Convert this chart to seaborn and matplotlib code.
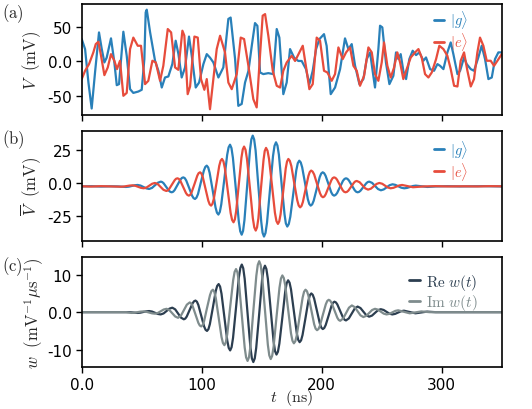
import matplotlib
matplotlib.use("Agg")
import matplotlib.pyplot as plt
import seaborn as sns
import pandas as pd

# ---- data ----
# (a) single-shot traces, t in ns, V in mV
t_raw_g = [0, 2.8, 5.6, 8.3, 11.1, 14.4, 16.7, 18.9, 20.8, 24.4, 27.2, 29.2, 31.1, 34.7, 37.5,
           40.3, 43.0, 47.2, 50.0, 52.2, 53.3, 54.2, 57.0, 61.1, 63.9, 66.7, 69.4, 72.2, 75.5, 78.3,
           80.6, 83.3, 86.1, 89.4, 91.7, 95.0, 97.8, 101.4, 104.2, 106.9, 109.7, 113.9, 118.0,
           122.2, 124.1, 127.8, 130.5, 133.3, 136.1, 138.9, 141.7, 144.4, 146.4, 148.6, 151.3, 155.5,
           159.7, 162.5, 164.7, 168.0, 170.8, 173.6, 177.0, 180.5, 183.3, 186.9, 189.7, 192.5, 195.3,
           198.1, 201.9, 204.1, 207.5, 211.1, 215.3, 219.4, 222.2, 225.0, 227.8, 231.4,
           234.7, 237.5, 240.3, 243.0, 244.4, 247.2, 248.6, 250.5, 253.5, 256.4, 259.7, 261.9, 263.9,
           265.8, 268.0, 270.3, 273.0, 275.8, 278.6, 281.4, 284.7, 286.9, 290.3, 293.6, 296.4, 298.6,
           301.4, 304.7, 307.5, 309.7, 313.1, 315.3, 318.6, 320.8, 324.2, 326.9, 330.5, 333.3, 336.1,
           338.9, 341.7, 344.4, 347.2, 350.0]
v_raw_g = [31.9, 17.4, -31, -68.6, -16.4, 41.5, 17.4, -1.9, 5, 32.9, -1.9, -34.8, -33.3, 42.5, 7.7,
           -40.6, -46, -44, -41.5, 2.9, 70.5, 74.4, 41.5, 0.5, -14, -38.2, -23.7, -22.2, -4.3, 29.5,
           10.1, -23.7, -9.2, 35.5, 7.7, -38.2, -31, -4.3, 10.1, 5, -1.9, -23.7, -9.2,
           61, 63, 3, -64.7, -62, -31, -14.5, 22, 55, 51, -16.4, -18.8, -17.4,
           -18.8, 46.4, 34, -47.8, -31, 17.4, 5, 0.2, 0.2, -11.6, -33.3, -14, 17.4,
           31.9, 39, 22, -47.8, -38.2, -11.6, 32.9, 17.4, 24.6, -6.8, -33.3,
           -26, 2.9, 12.6, -21.3, -38.2, 17.4, 51.2, 48.8, -1.9, -33.3, -21.3, 12.6, 2.9,
           10.1, -14, -26, 2.9, 15, 8.7, 12.6, 0.5, 5.3, -11.6, -14, -4.3, -6.8,
           -11.6, 12.6, 27, 10.1, -18.8, -14, 5.3, -4.3, -11.6, -14, 5.3, 22.2, 2.9,
           -26, -23.7, 2.9, 12.6, 12.6]

t_raw_e = [0, 2.8, 6.1, 9.7, 11.7, 13.9, 16.1, 18.9, 21.7, 24.4, 27.2, 29.4, 31.9, 34.7, 37.5,
           40.3, 43.0, 46.7, 49.4, 52.8, 55.5, 58.9, 61.7, 65.3, 68.0, 71.7, 74.5, 77.8, 80.5, 83.9,
           85.5, 88.3, 90.3, 93.9, 96.7, 99.4, 102.2, 104.2, 106.9, 109.7, 112.5,
           115.3, 119.4, 122.2, 125.0, 129.2, 132.5, 135.3, 138.9, 143.0, 145.8, 148.0, 150.8, 152.8,
           155.5, 159.2, 162.5, 165.3, 168.0, 170.8, 175.0, 177.8, 181.4, 184.2, 187.0, 189.7, 192.5,
           195.8, 198.6, 201.9, 204.7, 208.3, 211.1, 213.9, 217.5, 220.3, 223.6, 226.4, 229.2,
           231.9, 235.3, 238.9, 241.7, 244.4, 247.2, 250.0, 251.9, 254.7, 257.5, 260.3, 263.0, 265.3,
           268.0, 270.8, 274.2, 277.8, 280.6, 283.3, 286.1, 288.9, 291.7, 295.3, 298.0, 301.4, 304.7,
           307.5, 310.3, 313.1, 315.8, 318.6, 321.4, 324.2, 326.9, 329.7, 331.9, 334.7, 337.5, 340.8,
           343.6, 346.4, 350.0]
v_raw_e = [-26, -14, -4.3, 12.6, 24.6, 28, 7.7, -20.3, -9.2, 10.1, 0.5, -11.6, 0.5, -50.2, -46,
           17.4, 34, 22.2, 22.2, -33.3, -28.5, 0.5, -1.9, -28.5, -6.8, 46.4, 41.5, -9.2, -12.6, 44,
           37, -47.8, -36.7, 35.5, 34, -26, -41.5, -26, -69.6, -26, 17.4,
           36.7, 12.6, -31, -40.6, -18.8, 34, 31.9, -6.8, -55, -67, -6.8, 65.7, 68,
           36.7, -14, -35.7, -38.2, -14, -2, 7.7, 0.2, 12.6, 22.2, -9.2, -40.6, -33.3,
           34, 29.5, -14, -16.4, -28.5, -18.8, 19.8, 2.9, 12.6, 19.8, -6.8, -14,
           -35.7, -21.3, 19.8, 12.6, -18.8, -28.5, -1.9, 27, -6.8, -23.7, -9.2, 12.6, -1.9,
           -26, -11.6, 5.3, 12.6, 17.4, 5.3, -18.8, -23.7, -16.4, 2.9, 22.2, 17.4, 7.7,
           -11.6, -35.7, -36.7, 0.5, 12.6, -14, -36.7, -26, 12.6, 34, 22.2, 0.5, 0.5,
           -6.8, 0.5, 10.1]

# (b) averaged traces, (t ns, V mV)
avg_g = [(0, -2.6), (8, -2.4), (16, -2.7), (24, -2.5), (30, -2.6),
         (36.9, -3.0), (39.3, -2.78), (41.8, -2.25), (44.2, -1.72),
         (46.6, -1.5), (49.0, -1.94), (51.4, -3.0), (53.8, -4.06),
         (56.2, -4.5), (58.6, -3.69), (61.1, -1.75), (63.5, 0.19),
         (65.9, 1.0), (67.0, 0.7), (68.2, -0.17), (70.5, -3.0), (72.7, -5.83), (73.9, -6.7),
         (75.0, -7.0), (76.2, -6.57), (77.4, -5.36), (79.9, -1.4), (82.3, 2.56), (83.5, 3.77),
         (84.7, 4.2), (85.9, 3.58), (87.1, 1.83), (89.6, -3.9), (92.0, -9.63), (93.2, -11.38),
         (94.4, -12.0), (95.6, -11.05), (96.9, -8.34), (99.3, 0.5), (101.8, 9.34), (103.0, 12.05),
         (104.2, 13.0), (105.4, 11.61), (106.6, 7.62), (109.1, -5.35), (111.5, -18.32), (112.7, -22.31),
         (113.9, -23.7), (115.1, -21.71), (116.3, -16.02), (118.8, 2.5), (121.2, 21.02), (122.4, 26.71),
         (123.6, 28.7), (124.8, 26.13), (126.0, 18.81), (128.5, -5.05), (130.9, -28.91), (132.1, -36.23),
         (133.3, -38.8), (134.45, -35.98), (135.6, -27.92), (137.9, -1.65), (140.2, 24.62), (141.35, 32.68),
         (142.5, 35.5), (143.7, 32.62), (144.9, 24.41), (147.2, -2.35), (149.6, -29.11), (150.7, -37.32),
         (151.9, -40.2), (153.15, -37.51), (154.4, -29.84), (156.9, -4.85), (159.4, 20.14), (160.65, 27.81),
         (161.9, 30.5), (163.1, 28.1), (164.3, 21.24), (166.6, -1.1), (169.0, -23.44), (170.1, -30.3),
         (171.3, -32.7), (172.55, -30.82), (173.8, -25.46), (176.3, -8.0), (178.8, 9.46), (180.05, 14.82),
         (181.3, 16.7), (182.5, 15.42), (183.7, 11.76), (186.1, -0.15), (188.4, -12.06), (189.6, -15.72),
         (190.8, -17.0), (192.05, -16.05), (193.3, -13.34), (195.8, -4.5), (198.3, 4.34), (199.55, 7.05),
         (200.8, 8.0), (202.0, 7.33), (203.2, 5.44), (205.6, -0.75), (207.9, -6.94), (209.1, -8.83),
         (210.3, -9.5), (211.5, -9.01), (212.8, -7.6), (215.3, -3.0), (217.7, 1.6), (219.0, 3.01),
         (220.2, 3.5), (221.4, 3.1), (222.6, 1.96), (225.1, -1.75), (227.5, -5.46), (228.7, -6.6),
         (229.9, -7.0), (231.1, -6.7), (232.3, -5.83), (234.8, -3.0), (237.2, -0.17), (238.4, 0.7),
         (239.6, 1.0), (242.0, 0.05), (244.5, -2.25), (246.9, -4.55),
         (249.3, -5.5), (251.7, -4.84), (254.2, -3.25), (256.6, -1.66),
         (259.0, -1.0), (261.4, -1.44), (263.9, -2.5), (266.3, -3.56),
         (268.7, -4.0), (271.1, -3.71), (273.6, -3.0), (276.0, -2.29),
         (278.4, -2.0), (283.2, -2.5), (288.0, -3.0),
         (295, -2.6), (305, -2.4), (315, -2.6), (325, -2.5), (335, -2.4), (350, -2.6)]

avg_e = [(0, -2.5), (8, -2.7), (16, -2.4), (24, -2.6),
         (33.0, -2.8), (35.3, -2.65), (37.7, -2.3), (40.0, -1.95),
         (42.3, -1.8), (44.7, -2.12), (47.0, -2.9), (49.4, -3.68),
         (51.7, -4.0), (54.0, -3.41), (56.4, -2.0), (58.7, -0.59),
         (61.0, 0.0), (63.4, -0.88), (65.8, -3.0), (68.1, -5.12),
         (70.5, -6.0), (71.7, -5.64), (72.8, -4.61), (75.2, -1.25), (77.5, 2.11), (78.6, 3.14),
         (79.8, 3.5), (81.0, 3.01), (82.2, 1.6), (84.6, -3.0), (86.9, -7.6), (88.1, -9.01),
         (89.3, -9.5), (90.5, -8.83), (91.6, -6.94), (94.0, -0.75), (96.3, 5.44), (97.4, 7.33),
         (98.6, 8.0), (99.75, 7.05), (100.9, 4.34), (103.2, -4.5), (105.5, -13.34), (106.65, -16.05),
         (107.8, -17.0), (108.95, -15.67), (110.1, -11.87), (112.4, 0.5), (114.6, 12.87), (115.75, 16.67),
         (116.9, 18.0), (118.1, 16.2), (119.3, 11.04), (121.7, -5.75), (124.1, -22.54), (125.3, -27.7),
         (126.5, -29.5), (127.6, -27.34), (128.7, -21.18), (130.9, -1.1), (133.1, 18.98), (134.2, 25.14),
         (135.3, 27.3), (136.5, 24.91), (137.7, 18.07), (140.2, -4.2), (142.6, -26.47), (143.8, -33.31),
         (145.0, -35.7), (146.1, -33.34), (147.2, -26.62), (149.3, -4.7), (151.5, 17.22), (152.5, 23.94),
         (153.6, 26.3), (154.85, 24.13), (156.1, 17.95), (158.6, -2.2), (161.0, -22.35), (162.25, -28.53),
         (163.5, -30.7), (164.6, -28.85), (165.7, -23.57), (167.9, -6.35), (170.0, 10.87), (171.1, 16.15),
         (172.2, 18.0), (173.4, 16.62), (174.7, 12.68), (177.1, -0.15), (179.6, -12.98), (180.8, -16.92),
         (182.0, -18.3), (183.15, -17.25), (184.3, -14.26), (186.6, -4.5), (188.9, 5.26), (190.05, 8.25),
         (191.2, 9.3), (192.4, 8.54), (193.7, 6.37), (196.1, -0.7), (198.6, -7.77), (199.8, -9.94),
         (201.0, -10.7), (202.2, -10.13), (203.3, -8.52), (205.7, -3.25), (208.0, 2.02), (209.1, 3.63),
         (210.3, 4.2), (211.5, 3.77), (212.7, 2.56), (215.1, -1.4), (217.4, -5.36), (218.6, -6.57),
         (219.8, -7.0), (221.0, -6.68), (222.2, -5.75), (224.5, -2.75), (226.9, 0.25), (228.0, 1.18),
         (229.2, 1.5), (231.6, 0.55), (233.9, -1.75), (236.3, -4.05),
         (238.6, -5.0), (241.0, -4.27), (243.3, -2.5), (245.7, -0.73),
         (248.0, 0.0), (250.4, -0.59), (252.7, -2.0), (255.1, -3.41),
         (257.4, -4.0), (259.8, -3.63), (262.2, -2.75), (264.6, -1.87),
         (267.0, -1.5), (271.5, -2.35), (276.0, -3.2),
         (285, -2.6), (295, -2.4), (305, -2.6), (318, -2.5), (330, -2.6), (340, -2.4), (350, -2.5)]

# (c) weights, (t ns, w)
w_re = [(0, 0), (10, 0), (20, 0), (30, 0), (40, 0),
        (46.5, -0.2), (48.9, -0.13), (51.3, 0.05), (53.8, 0.23),
        (56.2, 0.3), (58.6, 0.17), (61.0, -0.15), (63.4, -0.47),
        (65.8, -0.6), (68.2, -0.34), (70.7, 0.3), (73.1, 0.94),
        (75.5, 1.2), (77.9, 0.75), (80.3, -0.35), (82.7, -1.45),
        (85.1, -1.9), (86.3, -1.71), (87.5, -1.17), (90.0, 0.6), (92.4, 2.37), (93.6, 2.91),
        (94.8, 3.1), (96.0, 2.79), (97.2, 1.91), (99.6, -0.95), (102.0, -3.81), (103.2, -4.69),
        (104.4, -5.0), (105.6, -4.52), (106.8, -3.17), (109.3, 1.25), (111.7, 5.67), (112.9, 7.02),
        (114.1, 7.5), (115.3, 6.83), (116.5, 4.91), (118.9, -1.35), (121.3, -7.61), (122.5, -9.53),
        (123.7, -10.2), (124.9, -9.33), (126.1, -6.85), (128.6, 1.25), (131.0, 9.35), (132.2, 11.83),
        (133.4, 12.7), (134.6, 11.71), (135.8, 8.89), (138.2, -0.3), (140.6, -9.49), (141.8, -12.31),
        (143.0, -13.3), (144.2, -12.32), (145.4, -9.53), (147.9, -0.45), (150.3, 8.63), (151.5, 11.42),
        (152.7, 12.4), (153.9, 11.5), (155.1, 8.93), (157.5, 0.55), (159.9, -7.83), (161.1, -10.4),
        (162.3, -11.3), (163.5, -10.55), (164.7, -8.4), (167.2, -1.4), (169.6, 5.6), (170.8, 7.75),
        (172.0, 8.5), (173.2, 7.87), (174.4, 6.08), (176.8, 0.25), (179.2, -5.58), (180.4, -7.37),
        (181.6, -8.0), (182.8, -7.51), (184.0, -6.1), (186.5, -1.5), (188.9, 3.1), (190.1, 4.51),
        (191.3, 5.0), (192.5, 4.64), (193.7, 3.61), (196.1, 0.25), (198.5, -3.11), (199.7, -4.14),
        (200.9, -4.5), (202.1, -4.22), (203.3, -3.43), (205.8, -0.85), (208.2, 1.73), (209.4, 2.52),
        (210.6, 2.8), (211.8, 2.61), (213.0, 2.07), (215.4, 0.3), (217.8, -1.47), (219.0, -2.01),
        (220.2, -2.2), (222.6, -1.66), (225.1, -0.35), (227.5, 0.96),
        (229.9, 1.5), (232.3, 1.1), (234.7, 0.15), (237.1, -0.8),
        (239.5, -1.2), (241.9, -0.91), (244.4, -0.2), (246.8, 0.51),
        (249.2, 0.8), (251.6, 0.59), (254.0, 0.1), (256.4, -0.39),
        (258.8, -0.6), (261.2, -0.45), (263.7, -0.1), (266.1, 0.25),
        (268.5, 0.4), (273.3, 0.05), (278.1, -0.3), (283.0, -0.07), (287.8, 0.15),
        (295, 0), (310, 0), (330, 0), (350, 0)]

w_im = [(0, 0), (10, 0), (20, 0), (30, 0), (37, 0),
        (41.7, -0.2), (44.1, -0.14), (46.5, 0), (48.9, 0.14),
        (51.4, 0.2), (53.8, 0.11), (56.2, -0.1), (58.6, -0.31),
        (61.0, -0.4), (63.4, -0.21), (65.8, 0.25), (68.3, 0.71),
        (70.7, 0.9), (73.1, 0.55), (75.5, -0.3), (77.9, -1.15),
        (80.3, -1.5), (82.7, -0.9), (85.1, 0.55), (87.6, 2.0),
        (90.0, 2.6), (91.2, 2.36), (92.4, 1.66), (94.8, -0.6), (97.2, -2.86), (98.4, -3.56),
        (99.6, -3.8), (100.8, -3.43), (102.0, -2.36), (104.4, 1.1), (106.9, 4.56), (108.1, 5.63),
        (109.3, 6.0), (110.5, 5.44), (111.7, 3.83), (114.1, -1.4), (116.5, -6.63), (117.7, -8.24),
        (118.9, -8.8), (120.1, -8.03), (121.3, -5.83), (123.7, 1.35), (126.2, 8.53), (127.4, 10.73),
        (128.6, 11.5), (129.8, 10.57), (131.0, 7.91), (133.4, -0.75), (135.8, -9.41), (137.0, -12.07),
        (138.2, -13.0), (139.4, -11.99), (140.6, -9.1), (143.0, 0.3), (145.5, 9.7), (146.7, 12.59),
        (147.9, 13.6), (149.1, 12.61), (150.3, 9.78), (152.7, 0.55), (155.1, -8.68), (156.3, -11.51),
        (157.5, -12.5), (158.7, -11.65), (159.9, -9.23), (162.3, -1.35), (164.8, 6.53), (166.0, 8.95),
        (167.2, 9.8), (168.4, 9.11), (169.6, 7.15), (172.0, 0.75), (174.4, -5.65), (175.6, -7.61),
        (176.8, -8.3), (178.0, -7.76), (179.2, -6.21), (181.6, -1.15), (184.1, 3.91), (185.3, 5.46),
        (186.5, 6.0), (187.7, 5.59), (188.9, 4.42), (191.3, 0.6), (193.7, -3.22), (194.9, -4.39),
        (196.1, -4.8), (197.3, -4.49), (198.5, -3.61), (200.9, -0.75), (203.4, 2.11), (204.6, 2.99),
        (205.8, 3.3), (207.0, 3.09), (208.2, 2.48), (210.6, 0.5), (213.0, -1.48), (214.2, -2.09),
        (215.4, -2.3), (217.8, -1.7), (220.2, -0.25), (222.7, 1.2),
        (225.1, 1.8), (227.5, 1.35), (229.9, 0.25), (232.3, -0.85),
        (234.7, -1.3), (237.1, -0.98), (239.5, -0.2), (242.0, 0.58),
        (244.4, 0.9), (246.8, 0.68), (249.2, 0.15), (251.6, -0.38),
        (254.0, -0.6), (256.4, -0.44), (258.8, -0.05), (261.3, 0.34),
        (263.7, 0.5), (268.5, 0.1), (273.3, -0.3), (278.1, -0.05), (283.0, 0.2),
        (290, 0), (305, 0), (325, 0), (350, 0)]

x_ticks = [0, 100, 200, 300]
x_ticklabels = ["0.0", "100", "200", "300"]
a_ticks, a_ticklabels = [-50, 0, 50], ["-50", "0.0", "50"]
b_ticks, b_ticklabels = [-25, 0, 25], ["-25", "0.0", "25"]
c_ticks, c_ticklabels = [-10, 0, 10], ["-10", "0.0", "10"]

# ---- style ----
sns.set_style("ticks")
plt.rcParams["font.family"] = ["DejaVu Sans"]
plt.rcParams["mathtext.fontset"] = "cm"

c_g, c_e = "#2980b9", "#e74c3c"
c_re, c_im = "#2c3e50", "#7f8c8d"
lw = 1.6

fig = plt.figure(figsize=(5.32, 4.10), dpi=100)
L, W = 0.1536, 0.7895
ax_a = fig.add_axes([L, 0.717, W, 0.2708])
ax_b = fig.add_axes([L, 0.4105, W, 0.2683])
ax_c = fig.add_axes([L, 0.1017, W, 0.2698])


def draw(ax, t, v, color, label):
    df = pd.DataFrame({"t": t, "v": v})
    sns.lineplot(data=df, x="t", y="v", ax=ax, color=color, lw=lw,
                 label=label, estimator=None, sort=False)


def pairs(p):
    return [a for a, _ in p], [b for _, b in p]


draw(ax_a, t_raw_g, v_raw_g, c_g, r"$|g\rangle$")
draw(ax_a, t_raw_e, v_raw_e, c_e, r"$|e\rangle$")
draw(ax_b, *pairs(avg_g), c_g, r"$|g\rangle$")
draw(ax_b, *pairs(avg_e), c_e, r"$|e\rangle$")
draw(ax_c, *pairs(w_re), c_re, r"$\mathrm{Re}\ w(t)$")
draw(ax_c, *pairs(w_im), c_im, r"$\mathrm{Im}\ w(t)$")

ax_a.set_ylim(-78, 82.6)
ax_b.set_ylim(-43.3, 39.2)
ax_c.set_ylim(-14.7, 14.8)
for ax, tk, tl in [(ax_a, a_ticks, a_ticklabels), (ax_b, b_ticks, b_ticklabels),
                   (ax_c, c_ticks, c_ticklabels)]:
    ax.set_xlim(0, 350)
    ax.set_xticks(x_ticks)
    ax.set_yticks(tk)
    ax.set_yticklabels(tl)
    ax.tick_params(direction="out", length=4.5, width=1, labelsize=11, colors="black", pad=2.5)
    for s in ax.spines.values():
        s.set_linewidth(1.2)
        s.set_color("black")
    ax.set_xlabel("")
for ax in (ax_a, ax_b):
    ax.set_xticklabels([])
ax_c.set_xticklabels(x_ticklabels)

ax_a.set_ylabel(r"$V\ \ (\mathrm{mV})$", fontsize=12, labelpad=3)
ax_b.set_ylabel(r"$\overline{V}\ \ (\mathrm{mV})$", fontsize=12, labelpad=3)
ax_c.set_ylabel(r"$w\ \ (\mathrm{mV}^{-1}\mu\mathrm{s}^{-1})$", fontsize=12, labelpad=1)
ax_c.set_xlabel(r"$t\ \ (\mathrm{ns})$", fontsize=11.5)
ax_c.xaxis.set_label_coords(0.5, -0.175)

legend_spots = [(ax_a, (0.935, 1.015), 10.5, 0.0),
                (ax_b, (0.935, 0.99), 10.5, 0.0),
                (ax_c, (0.957, 0.92), 11, 0.05)]
for ax, anchor, fs, sp in legend_spots:
    leg = ax.legend(loc="upper right", bbox_to_anchor=anchor, frameon=False,
                    handlelength=0.7, handletextpad=0.4, labelspacing=sp,
                    fontsize=fs, borderaxespad=0.0)
    for txt, line in zip(leg.get_texts(), leg.get_lines()):
        txt.set_color(line.get_color())
        line.set_linewidth(2)

for lab, yp in [("(a)", 14), ("(b)", 140), ("(c)", 267)]:
    fig.text(0.004, 1 - yp / 410, r"$\mathrm{" + lab + "}$", fontsize=12, va="center", ha="left")

fig.savefig("out.png", dpi=100)
